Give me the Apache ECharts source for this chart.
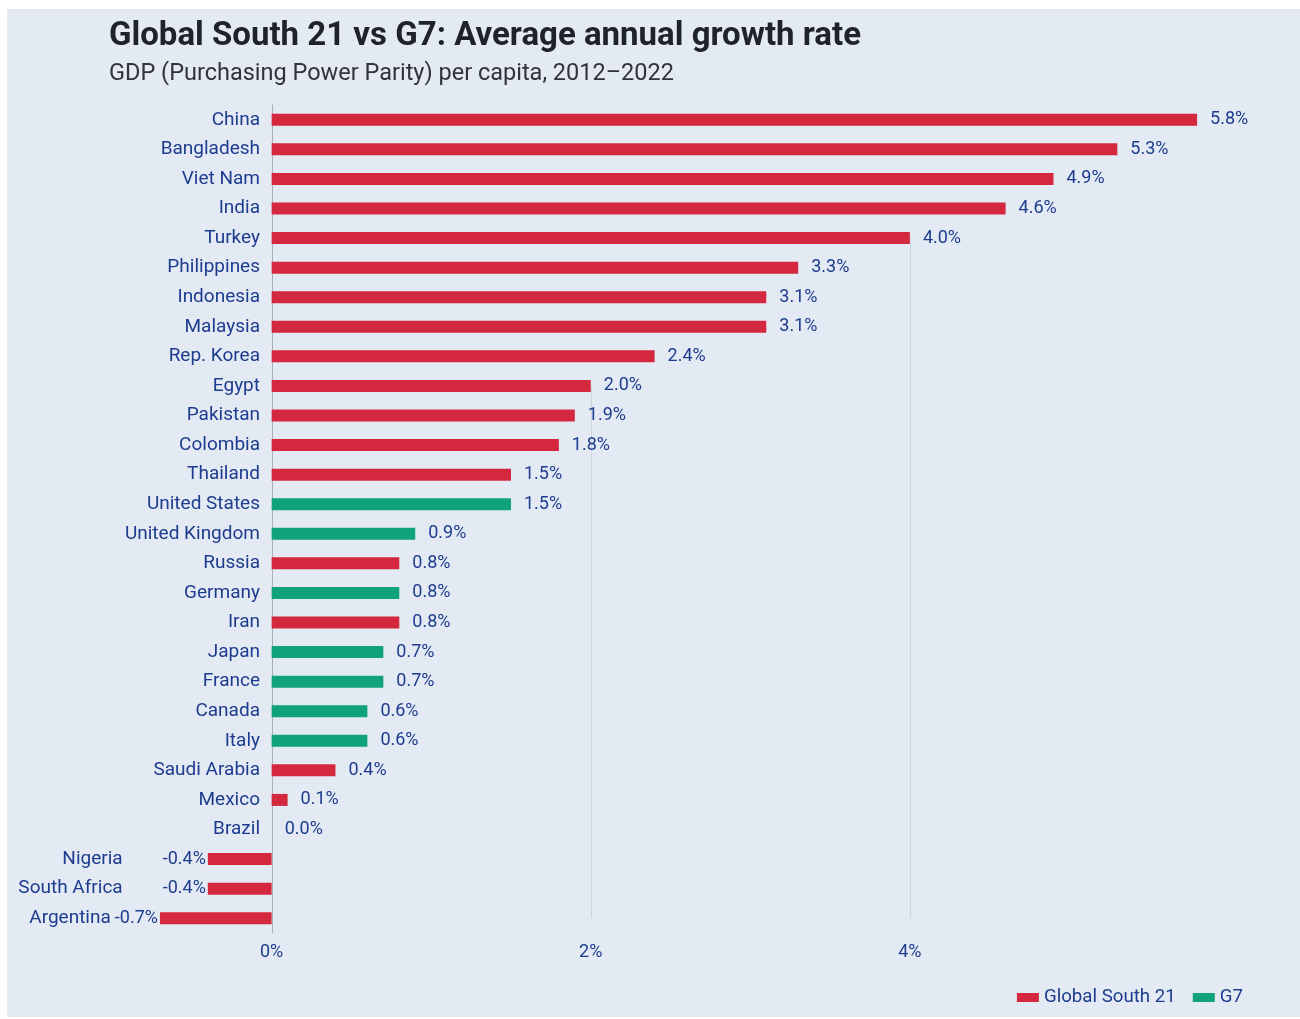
<!DOCTYPE html>
<html>
<head>
<meta charset="utf-8">
<script src="https://cdn.jsdelivr.net/npm/echarts@6/dist/echarts.min.js"></script>
<style>
html,body{margin:0;padding:0;background:#fff;}
#chart{width:1300px;height:1019px;}
</style>
</head>
<body>
<div id="chart"></div>
<script>
const categories = ["China","Bangladesh","Viet Nam","India","Turkey","Philippines","Indonesia","Malaysia","Rep. Korea","Egypt","Pakistan","Colombia","Thailand","United States","United Kingdom","Russia","Germany","Iran","Japan","France","Canada","Italy","Saudi Arabia","Mexico","Brazil","Nigeria","South Africa","Argentina"];
const values = [5.8,5.3,4.9,4.6,4.0,3.3,3.1,3.1,2.4,2.0,1.9,1.8,1.5,1.5,0.9,0.8,0.8,0.8,0.7,0.7,0.6,0.6,0.4,0.1,0.0,-0.4,-0.4,-0.7];
const groups = ["GS","GS","GS","GS","GS","GS","GS","GS","GS","GS","GS","GS","GS","G7","G7","GS","G7","GS","G7","G7","G7","G7","GS","GS","GS","GS","GS","GS"];
const tickValues = [0,2,4];
const seriesNames = {GS:"Global South 21", G7:"G7"};

const RED = "#d3283d", GREEN = "#10a27c", NAVY = "#1d3c8f";
const FONT = "Roboto";

function fmt(v){ return v.toFixed(1) + "%"; }

function makeData(g){
  return values.map((v,i) => {
    if (groups[i] !== g) return null;
    const item = {value: v};
    if (v < 0) {
      const gap = v > -0.5 ? 40 : 4;
      item.label = {
        position: "left",
        distance: 2,
        formatter: () => "{n|" + categories[i] + "}{v|" + fmt(v) + "}",
        rich: {
          n: {fontFamily: FONT, fontSize: 19, color: NAVY, padding: [0, gap, 0, 0]},
          v: {fontFamily: FONT, fontSize: 18, color: NAVY}
        }
      };
    }
    return item;
  });
}

const chart = echarts.init(document.getElementById("chart"), null, {renderer: "canvas"});
const option = {
  backgroundColor: "#ffffff",
  animation: false,
  graphic: [{
    type: "rect", z: -10, silent: true,
    shape: {x: 7, y: 9, width: 1293, height: 1008},
    style: {fill: "#e4eaf3"}
  }],
  title: {
    text: "Global South 21 vs G7: Average annual growth rate",
    subtext: "GDP (Purchasing Power Parity) per capita, 2012\u20132022",
    left: 104, top: 15, itemGap: 9,
    textStyle: {fontFamily: FONT, fontSize: 33, fontWeight: "bold", color: "#1e2329"},
    subtextStyle: {fontFamily: FONT, fontSize: 23.5, color: "#30343a"}
  },
  legend: {
    right: 52, top: 983,
    itemWidth: 22, itemHeight: 9, itemGap: 17,
    icon: "rect",
    textStyle: {fontFamily: FONT, fontSize: 18.7, color: NAVY},
    data: [seriesNames.GS, seriesNames.G7]
  },
  grid: {left: 144, right: 71, top: 105, bottom: 86, containLabel: false},
  xAxis: {
    type: "value", min: -0.8, max: 6,
    axisLine: {show: false}, axisTick: {show: false}, splitLine: {show: false},
    axisLabel: {
      customValues: tickValues, margin: 10,
      fontFamily: FONT, fontSize: 18, color: NAVY,
      formatter: v => v + "%"
    }
  },
  yAxis: {
    type: "category", data: categories, inverse: true,
    offset: -128,
    axisLine: {show: true, onZero: false, lineStyle: {color: "#a9b0ba", width: 1}},
    axisTick: {show: false},
    axisLabel: {
      margin: 12, fontFamily: FONT, fontSize: 19, color: NAVY,
      formatter: (name) => values[categories.indexOf(name)] < 0 ? "" : name
    }
  },
  series: [
    {
      name: seriesNames.GS, type: "bar", barWidth: 12, barGap: "-100%",
      itemStyle: {color: RED},
      label: {show: true, position: "right", distance: 13, fontFamily: FONT, fontSize: 18, color: NAVY,
        formatter: p => fmt(p.value)},
      data: makeData("GS"),
      markLine: {
        silent: true, symbol: "none", z: 0,
        label: {show: false},
        lineStyle: {color: "#cdd4de", width: 1, type: "solid"},
        data: [
          [{coord: [2, "Egypt"]}, {coord: [2, "Argentina"]}],
          [{coord: [4, "Turkey"]}, {coord: [4, "Argentina"]}]
        ]
      }
    },
    {
      name: seriesNames.G7, type: "bar", barWidth: 12, barGap: "-100%",
      itemStyle: {color: GREEN},
      label: {show: true, position: "right", distance: 13, fontFamily: FONT, fontSize: 18, color: NAVY,
        formatter: p => fmt(p.value)},
      data: makeData("G7")
    }
  ]
};
chart.setOption(option);
</script>
</body>
</html>
